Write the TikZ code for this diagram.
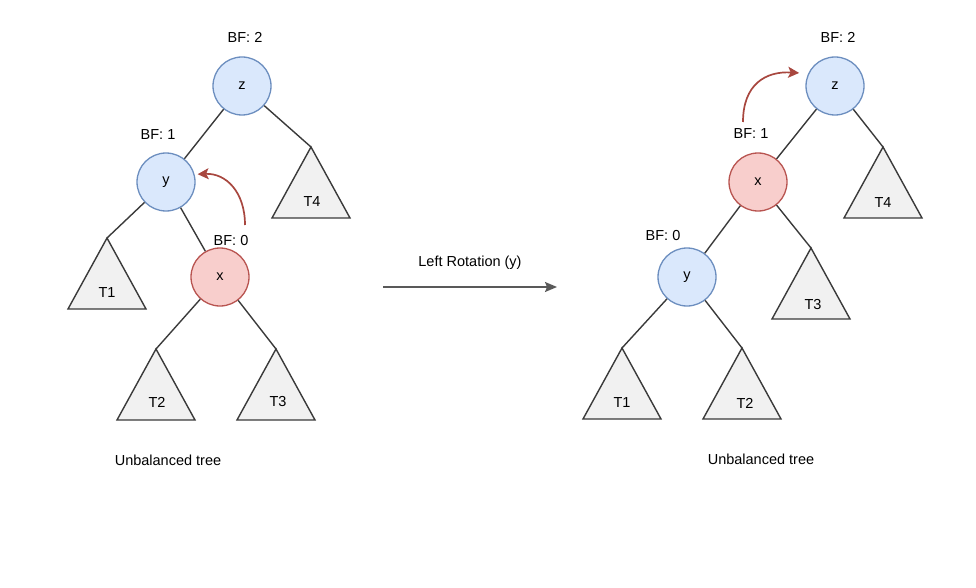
\documentclass[tikz,border=0pt]{standalone}
\usepackage{fontspec}
\setmainfont{Liberation Sans}
\usetikzlibrary{arrows.meta}
\definecolor{blueFill}{HTML}{DAE8FC}
\definecolor{blueLine}{HTML}{6C8EBF}
\definecolor{redFill}{HTML}{F8CECC}
\definecolor{redLine}{HTML}{B85450}
\definecolor{turnRed}{HTML}{A8473F}
\definecolor{edgeGray}{HTML}{3A3A3A}
\definecolor{treeFill}{HTML}{F1F1F1}
\tikzset{
  bnode/.style={circle, draw=blueLine, fill=blueFill, line width=1.3pt,
                minimum size=58pt, inner sep=0pt},
  rnode/.style={bnode, draw=redLine, fill=redFill},
  edge/.style={draw=edgeGray, line width=1.4pt},
  subtree/.style={draw=edgeGray, fill=treeFill, line width=1.4pt},
  turn/.style={draw=turnRed, line width=1.7pt,
               -{Stealth[length=11pt,width=11pt,inset=2.5pt]}},
  rotarrow/.style={draw=black!65, line width=1.4pt,
                   -{Stealth[length=12pt,width=10pt,inset=2pt]}},
}
\begin{document}
\begin{tikzpicture}[x=1pt, y=-1pt, font=\fontsize{14.5}{17}\selectfont]
    \useasboundingbox (0,0) rectangle (976,588);
    % unbalanced tree, before the rotation
    \node[bnode] (zL) at (242,86)  {z};
    \node[bnode] (yL) at (166,182) {y};
    \node[rnode] (xL) at (220,277) {x};
    \node (bfzL) at (245,37)  {BF: 2};
    \node (bfyL) at (158,135) {BF: 1};
    \node (bfxL) at (231,241) {BF: 0};
    \coordinate (t4L) at (311,147);
    \coordinate (t1L) at (107,238);
    \coordinate (t2L) at (156,349);
    \coordinate (t3L) at (276,349);
    \draw[subtree] (t4L) -- ++(-39,71) -- ++(78,0) -- cycle;
    \draw[subtree] (t1L) -- ++(-39,71) -- ++(78,0) -- cycle;
    \draw[subtree] (t2L) -- ++(-39,71) -- ++(78,0) -- cycle;
    \draw[subtree] (t3L) -- ++(-39,71) -- ++(78,0) -- cycle;
    \node (lt4L) at (312,202) {T4};
    \node (lt1L) at (107,293) {T1};
    \node (lt2L) at (157,402) {T2};
    \node (lt3L) at (278,402) {T3};
    \draw[edge] (zL) -- (yL)  (zL) -- (t4L)
                (yL) -- (t1L) (yL) -- (xL)
                (xL) -- (t2L) (xL) -- (t3L);
    \coordinate (pL) at (245,225);
    \draw[turn, shorten >=3pt] (pL) .. controls (245,192) and (226,173) .. (yL.15);
    \node (capL) at (168,460) {Unbalanced tree};

    % the rotation
    \coordinate (rs) at (383,287);
    \coordinate (re) at (557,287);
    \draw[rotarrow] (rs) -- (re);
    \node (rot) at (470,263) {Left Rotation (y)};

    % tree after the rotation
    \node[bnode] (zR) at (835,86)  {z};
    \node[rnode] (xR) at (758,182) {x};
    \node[bnode] (yR) at (687,277) {y};
    \node (bfzR) at (838,37)  {BF: 2};
    \node (bfxR) at (751,134) {BF: 1};
    \node (bfyR) at (663,236) {BF: 0};
    \coordinate (t4R) at (883,147);
    \coordinate (t3R) at (811,248);
    \coordinate (t1R) at (622,348);
    \coordinate (t2R) at (742,348);
    \draw[subtree] (t4R) -- ++(-39,71) -- ++(78,0) -- cycle;
    \draw[subtree] (t3R) -- ++(-39,71) -- ++(78,0) -- cycle;
    \draw[subtree] (t1R) -- ++(-39,71) -- ++(78,0) -- cycle;
    \draw[subtree] (t2R) -- ++(-39,71) -- ++(78,0) -- cycle;
    \node (lt4R) at (883,203) {T4};
    \node (lt3R) at (813,305) {T3};
    \node (lt1R) at (622,403) {T1};
    \node (lt2R) at (745,403) {T2};
    \draw[edge] (zR) -- (xR)  (zR) -- (t4R)
                (xR) -- (yR)  (xR) -- (t3R)
                (yR) -- (t1R) (yR) -- (t2R);
    \coordinate (pR) at (743,122);
    \draw[turn, shorten >=9pt] (pR) .. controls (743,84) and (766,71) .. (zR.155);
    \node (capR) at (761,459) {Unbalanced tree};
\end{tikzpicture}
\end{document}
